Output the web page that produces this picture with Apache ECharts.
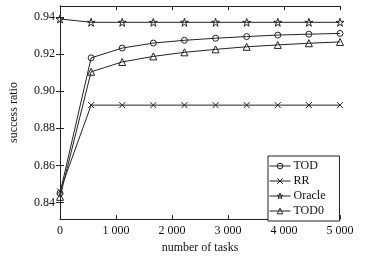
<!DOCTYPE html>
<html><head><meta charset="utf-8">
<script src="https://cdn.jsdelivr.net/npm/echarts@6/dist/echarts.min.js"></script>
<style>html,body{margin:0;padding:0;background:#fff}#c{width:365px;height:259px}</style>
</head><body><div id="c"></div>
<script>
const tasks = [0, 556, 1111, 1667, 2222, 2778, 3333, 3889, 4444, 5000];
const tod    = [0.845, 0.918, 0.9233, 0.926, 0.9275, 0.9286, 0.9295, 0.9303, 0.9308, 0.9312];
const rr     = [0.846, 0.8925, 0.8925, 0.8925, 0.8925, 0.8925, 0.8925, 0.8925, 0.8925, 0.8925];
const oracle = [0.939, 0.9372, 0.9372, 0.9372, 0.9372, 0.9372, 0.9372, 0.9372, 0.9372, 0.9372];
const tod0   = [0.843, 0.9105, 0.9158, 0.9188, 0.921, 0.9226, 0.924, 0.925, 0.9259, 0.9266];
const yTicks = [0.84, 0.86, 0.88, 0.90, 0.92, 0.94];
const xTicks = [0, 1000, 2000, 3000, 4000, 5000];
const xTickLabels = ['0', '1 000', '2 000', '3 000', '4 000', '5 000'];

const FONT = 'Liberation Serif';
const C = '#222';
const star = 'path://M50,0L61.8,35.3L100,35.3L69.1,57.1L80.9,92.7L50,70.8L19.1,92.7L30.9,57.1L0,35.3L38.2,35.3Z';
const cross = 'path://M0,0L10,10M10,0L0,10';

function mk(name, data, symbol, size) {
  return {
    name, type: 'line', data: tasks.map((t, i) => [t, data[i]]),
    symbol, symbolSize: size, showSymbol: true,
    lineStyle: { color: C, width: 1 },
    itemStyle: { color: 'rgba(0,0,0,0)', borderColor: C, borderWidth: 1 },
    emphasis: { disabled: true }, animation: false
  };
}

const chart = echarts.init(document.getElementById('c'), null, { renderer: 'canvas' });
const axisBase = {
  axisLine: { show: true, lineStyle: { color: C, width: 1 } },
  axisTick: { show: true, inside: true, length: 4, lineStyle: { color: C } },
  splitLine: { show: false }
};
chart.setOption({
  animation: false,
  textStyle: { fontFamily: FONT },
  grid: { left: 52, right: 25, top: 6, bottom: 32, containLabel: false },
  xAxis: [
    Object.assign({}, axisBase, {
      type: 'value', min: 0, max: 5000, interval: 1000, position: 'bottom',
      name: 'number of tasks', nameLocation: 'middle', nameGap: 20,
      nameTextStyle: { fontFamily: FONT, fontSize: 12, color: '#111' },
      axisLabel: { fontFamily: FONT, fontSize: 12, color: '#111', margin: 6,
        formatter: v => xTickLabels[xTicks.indexOf(v)] ?? '' }
    }),
    Object.assign({}, axisBase, {
      type: 'value', min: 0, max: 5000, interval: 1000, position: 'top',
      axisLabel: { show: false }
    })
  ],
  yAxis: [
    Object.assign({}, axisBase, {
      type: 'value', min: 0.831, max: 0.946, position: 'left',
      name: 'success ratio', nameLocation: 'middle', nameGap: 40,
      nameTextStyle: { fontFamily: FONT, fontSize: 12, color: '#111' },
      axisTick: { show: true, inside: true, length: 4, lineStyle: { color: C }, customValues: yTicks },
      axisLabel: { fontFamily: FONT, fontSize: 12, color: '#111', margin: 5, customValues: yTicks,
        formatter: v => v.toFixed(2) }
    }),
    Object.assign({}, axisBase, {
      type: 'value', min: 0.831, max: 0.946, position: 'right',
      axisTick: { show: true, inside: true, length: 4, lineStyle: { color: C }, customValues: yTicks },
      axisLabel: { show: false, customValues: yTicks }
    })
  ],
  legend: {
    orient: 'vertical', left: 268, top: 156,
    data: ['TOD', 'RR', 'Oracle', 'TOD0'],
    itemWidth: 21, itemHeight: 7, itemGap: 3,
    padding: [4, 14, 4, 1],
    borderColor: C, borderWidth: 1, backgroundColor: '#fff',
    itemStyle: { color: 'rgba(0,0,0,0)', borderColor: C, borderWidth: 1 },
    lineStyle: { color: C, width: 1 },
    textStyle: { fontFamily: FONT, fontSize: 12, color: '#111', padding: [0, 0, 0, -2] }
  },
  series: [
    mk('TOD', tod, 'circle', 6),
    mk('RR', rr, cross, 6),
    mk('Oracle', oracle, star, 8),
    mk('TOD0', tod0, 'triangle', 7)
  ]
});
</script></body></html>
